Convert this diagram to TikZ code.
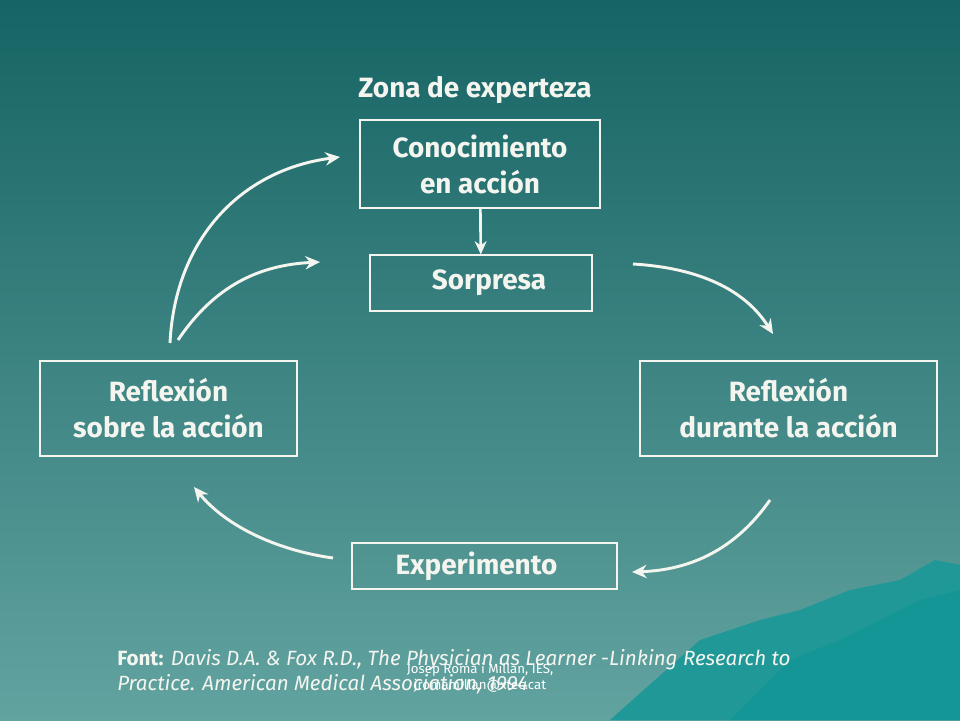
\documentclass[tikz,border=0pt]{standalone}
\usepackage{fontspec}
\setmainfont{Fira Sans}
\usetikzlibrary{arrows.meta}
\definecolor{teal-top}{RGB}{22,100,100}
\definecolor{teal-bottom}{RGB}{98,163,160}
\definecolor{rock}{RGB}{20,150,150}
\definecolor{chalk}{RGB}{245,245,240}
\tikzset{
  label-text/.style={text=chalk, font=\bfseries\fontsize{21}{27}\selectfont, align=center},
  box/.style={label-text, draw=chalk, line width=1.5pt, inner sep=0pt},
  loop/.style={draw=chalk, line width=2.2pt, -{Stealth[length=11pt,width=10pt]}},
}
\begin{document}
\begin{tikzpicture}[x=0.02646cm, y=-0.02646cm]
  \shade[top color=teal-top, bottom color=teal-bottom] (0,0) rectangle (960,720);
  \useasboundingbox (0,0) rectangle (960,720);
  % mountains
  \fill[rock!85!teal-bottom] (610,720) -- (700,640) -- (760,620) -- (800,610) -- (850,590) -- (900,580) -- (935,560) -- (960,565) -- (960,720) -- cycle;
  \fill[rock] (730,720) -- (790,660) -- (840,640) -- (880,620) -- (920,600) -- (960,590) -- (960,720) -- cycle;
  % boxes
  \node[label-text] (zona) at (475,90) {Zona de experteza};
  \node[box, minimum width=6.35cm, minimum height=2.33cm] (cono) at (480,164) {Conocimiento\\en acción};
  \node[box, minimum width=5.87cm, minimum height=1.46cm] (sor) at (481,283) {\hspace*{12pt}Sorpresa};
  \node[box, minimum width=6.8cm, minimum height=2.51cm] (sobre) at (168.5,408.5) {Reflexión\\sobre la acción};
  \node[box, minimum width=7.86cm, minimum height=2.51cm] (durante) at (788.5,408.5) {Reflexión\\durante la acción};
  \node[box, minimum width=7.01cm, minimum height=1.22cm] (exp) at (484.5,566) {Experimento\hspace*{12pt}};
  % connectors
  \draw[chalk, line width=2pt, -{Stealth[length=10pt,width=9pt]}] (cono) -- (sor);
  \coordinate (a1) at (170,343); \coordinate (b1) at (340,157);
  \coordinate (a2) at (178,340); \coordinate (b2) at (320,262);
  \coordinate (a3) at (633,264); \coordinate (b3) at (773,334);
  \coordinate (a4) at (770,500); \coordinate (b4) at (632,572);
  \coordinate (a5) at (333,558); \coordinate (b5) at (194,487);
  \draw[loop] (a1) .. controls (175,240) and (240,170) .. (b1);
  \draw[loop] (a2) .. controls (215,285) and (260,265) .. (b2);
  \draw[loop] (a3) .. controls (700,268) and (745,290) .. (b3);
  \draw[loop] (a4) .. controls (735,550) and (690,570) .. (b4);
  \draw[loop] (a5) .. controls (275,550) and (225,525) .. (b5);
  % source
  \node[anchor=west, text=chalk, font=\fontsize{15.5}{19}\selectfont, align=left, inner sep=0pt] (font) at (117,672)
    {\textbf{Font:} \textit{Davis D.A. \& Fox R.D., The Physician as Learner -Linking Research to}\\\textit{Practice. American Medical Association, 1994}};
  \node[text=white, font=\fontsize{10}{12}\selectfont, align=center] (autor) at (480,678) {Josep Roma i Millan, IES,\\jromamillan@xtec.cat};
\end{tikzpicture}
\end{document}
